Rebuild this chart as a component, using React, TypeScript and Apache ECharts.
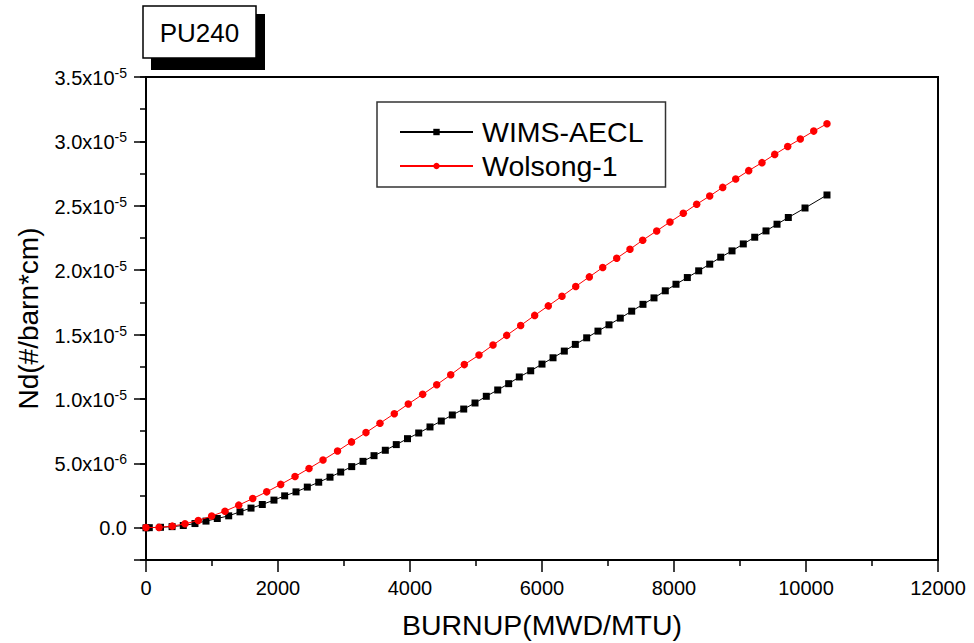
import React, { useEffect, useRef } from "react";
import * as echarts from "echarts";

// WIMS-AECL (black squares): burnup (MWD/MTU) and Nd (x1e-6 #/barn*cm)
const wimsBurnup = [0, 50, 220, 395, 565, 742, 909, 1080, 1253, 1424, 1591, 1762, 1939, 2101, 2273, 2444, 2617, 2788, 2950, 3117, 3288, 3455, 3626, 3792, 3962, 4132, 4303, 4474, 4641, 4814, 4985, 5156, 5329, 5495, 5656, 5829, 6000, 6167, 6338, 6505, 6677, 6848, 7015, 7186, 7359, 7530, 7697, 7868, 8030, 8202, 8374, 8541, 8708, 8879, 9050, 9223, 9394, 9561, 9732, 9985, 10318];
const wimsNd = [0.0, 0.01, 0.04, 0.09, 0.18, 0.33, 0.52, 0.72, 0.93, 1.24, 1.53, 1.81, 2.15, 2.48, 2.79, 3.16, 3.54, 3.93, 4.33, 4.75, 5.16, 5.6, 6.02, 6.46, 6.92, 7.36, 7.83, 8.29, 8.76, 9.22, 9.69, 10.21, 10.7, 11.19, 11.71, 12.19, 12.71, 13.2, 13.72, 14.24, 14.75, 15.27, 15.76, 16.28, 16.82, 17.35, 17.85, 18.4, 18.91, 19.43, 19.95, 20.47, 21.01, 21.5, 22.04, 22.56, 23.05, 23.57, 24.09, 24.83, 25.84];

// Wolsong-1 (red circles)
const wolsongBurnup = [0, 197, 398, 591, 792, 995, 1197, 1405, 1617, 1829, 2041, 2258, 2470, 2682, 2902, 3114, 3333, 3545, 3762, 3974, 4192, 4405, 4617, 4823, 5045, 5258, 5465, 5677, 5889, 6095, 6303, 6511, 6717, 6920, 7132, 7333, 7526, 7738, 7939, 8141, 8344, 8541, 8738, 8935, 9132, 9333, 9526, 9723, 9914, 10117, 10318];
const wolsongNd = [0.02, 0.03, 0.13, 0.31, 0.57, 0.91, 1.29, 1.76, 2.27, 2.79, 3.37, 3.98, 4.61, 5.26, 5.96, 6.67, 7.39, 8.12, 8.86, 9.61, 10.36, 11.11, 11.88, 12.67, 13.41, 14.19, 14.94, 15.71, 16.49, 17.23, 17.98, 18.74, 19.48, 20.21, 20.93, 21.63, 22.33, 23.05, 23.74, 24.42, 25.12, 25.76, 26.43, 27.08, 27.73, 28.35, 28.99, 29.61, 30.18, 30.8, 31.37];

const seriesNames = ["WIMS-AECL", "Wolsong-1"];

const xTickValues = [0, 2000, 4000, 6000, 8000, 10000, 12000];
const xTickLabels = ["0", "2000", "4000", "6000", "8000", "10000", "12000"];

const yTickValues = [0, 5e-6, 1.0e-5, 1.5e-5, 2.0e-5, 2.5e-5, 3.0e-5, 3.5e-5];
const yTickLabels = ["0.0", "5.0x10^-6", "1.0x10^-5", "1.5x10^-5", "2.0x10^-5", "2.5x10^-5", "3.0x10^-5", "3.5x10^-5"];
const yMajorTicks = [-2.5e-6, ...yTickValues];

const FONT = "'Liberation Sans', Arial, Helvetica, sans-serif";

function yLabel(v: number): string {
  let best = 0;
  for (let i = 0; i < yTickValues.length; i++) {
    if (Math.abs(yTickValues[i] - v) < Math.abs(yTickValues[best] - v)) best = i;
  }
  const lab = yTickLabels[best];
  const parts = lab.split("^");
  if (parts.length === 1) return `{z|${parts[0]}}`;
  return `{b|${parts[0]}}{s|${parts[1]}}`;
}

function xLabel(v: number): string {
  const i = xTickValues.indexOf(Math.round(v));
  return i >= 0 ? xTickLabels[i] : "";
}

export default function App() {
  const ref = useRef<HTMLDivElement>(null);
  useEffect(() => {
    if (!ref.current) return;
    const chart = echarts.init(ref.current, undefined, { renderer: "svg" });
    const wimsData = wimsBurnup.map((x, i) => [x, wimsNd[i] * 1e-6]);
    const wolsongData = wolsongBurnup.map((x, i) => [x, wolsongNd[i] * 1e-6]);
    chart.setOption({
      animation: false,
      backgroundColor: "#ffffff",
      textStyle: { fontFamily: FONT },
      grid: {
        left: 146,
        right: 36,
        top: 77,
        bottom: 83,
        show: true,
        containLabel: false,
        outerBoundsMode: "none",
        borderColor: "#000",
        borderWidth: 2,
        backgroundColor: "transparent",
      },
      legend: {
        left: 377,
        top: 102,
        orient: "vertical",
        itemGap: 0,
        itemWidth: 73,
        itemHeight: 8,
        padding: [13, 22, 4, 22],
        borderColor: "#333",
        borderWidth: 1.5,
        backgroundColor: "#fff",
        data: seriesNames,
        textStyle: {
          fontFamily: FONT,
          fontSize: 28.5,
          color: "#000",
          lineHeight: 34,
          padding: [0, 0, 0, 4],
        },
      },
      xAxis: {
        type: "value",
        min: 0,
        max: 12000,
        interval: 2000,
        name: "BURNUP(MWD/MTU)",
        nameLocation: "middle",
        nameGap: 50,
        nameTextStyle: { fontFamily: FONT, fontSize: 28.5, color: "#000" },
        axisLine: { show: true, onZero: false, lineStyle: { color: "#000", width: 2 } },
        axisTick: { show: true, inside: false, length: 12, lineStyle: { color: "#000", width: 1.5 } },
        minorTick: { show: true, splitNumber: 2, length: 6, lineStyle: { color: "#000", width: 1.5 } },
        splitLine: { show: false },
        axisLabel: {
          margin: 18,
          fontFamily: FONT,
          fontSize: 20,
          color: "#000",
          formatter: (v: number) => xLabel(v),
        },
      },
      yAxis: [
        {
          type: "value",
          min: -2.5e-6,
          max: 3.5e-5,
          position: "left",
          name: "Nd(#/barn*cm)",
          nameLocation: "middle",
          nameGap: 104,
          nameRotate: 90,
          nameTextStyle: { fontFamily: FONT, fontSize: 28, color: "#000" },
          axisLine: { show: true, onZero: false, lineStyle: { color: "#000", width: 2 } },
          axisTick: {
            show: true,
            inside: false,
            length: 12,
            customValues: yMajorTicks,
            lineStyle: { color: "#000", width: 1.5 },
          },
          splitLine: { show: false },
          axisLabel: {
            margin: 19,
            customValues: yTickValues,
            formatter: (v: number) => yLabel(v),
            rich: {
              z: { fontFamily: FONT, fontSize: 20, color: "#000", lineHeight: 22 },
              b: {
                fontFamily: FONT,
                fontSize: 20,
                color: "#000",
                lineHeight: 22,
                padding: [7, 0, 0, 0],
                verticalAlign: "bottom",
              },
              s: { fontFamily: FONT, fontSize: 14, color: "#000", lineHeight: 16, verticalAlign: "top" },
            },
          },
        },
        {
          type: "value",
          min: -2.5e-6,
          max: 3.5e-5,
          interval: 2.5e-6,
          position: "left",
          offset: 0,
          axisLine: { show: false },
          axisTick: { show: true, inside: false, length: 6, lineStyle: { color: "#000", width: 1.5 } },
          axisLabel: { show: false },
          splitLine: { show: false },
        },
      ],
      series: [
        {
          name: seriesNames[0],
          type: "line",
          yAxisIndex: 0,
          data: wimsData,
          symbol: "rect",
          symbolSize: 7,
          color: "#000",
          itemStyle: { color: "#000" },
          lineStyle: { color: "#000", width: 1 },
          z: 2,
        },
        {
          name: seriesNames[1],
          type: "line",
          yAxisIndex: 0,
          data: wolsongData,
          symbol: "circle",
          symbolSize: 7.5,
          color: "#ff0000",
          itemStyle: { color: "#ff0000" },
          lineStyle: { color: "#ff0000", width: 1 },
          z: 3,
        },
      ],
      graphic: [
        {
          type: "rect",
          shape: { x: 151, y: 14, width: 114, height: 56 },
          style: { fill: "#000" },
          z: 10,
        },
        {
          type: "rect",
          shape: { x: 143, y: 6, width: 113, height: 52 },
          style: { fill: "#fff", stroke: "#000", lineWidth: 1.5 },
          z: 11,
        },
        {
          type: "text",
          x: 199.5,
          y: 33,
          style: {
            text: "PU240",
            font: `26px ${FONT}`,
            fill: "#000",
            textAlign: "center",
            textVerticalAlign: "middle",
          },
          z: 12,
        },
      ],
    });
    return () => chart.dispose();
  }, []);
  return (
    <div
      ref={ref}
      style={{ position: "fixed", left: 0, top: 0, width: 974, height: 643 }}
    />
  );
}
